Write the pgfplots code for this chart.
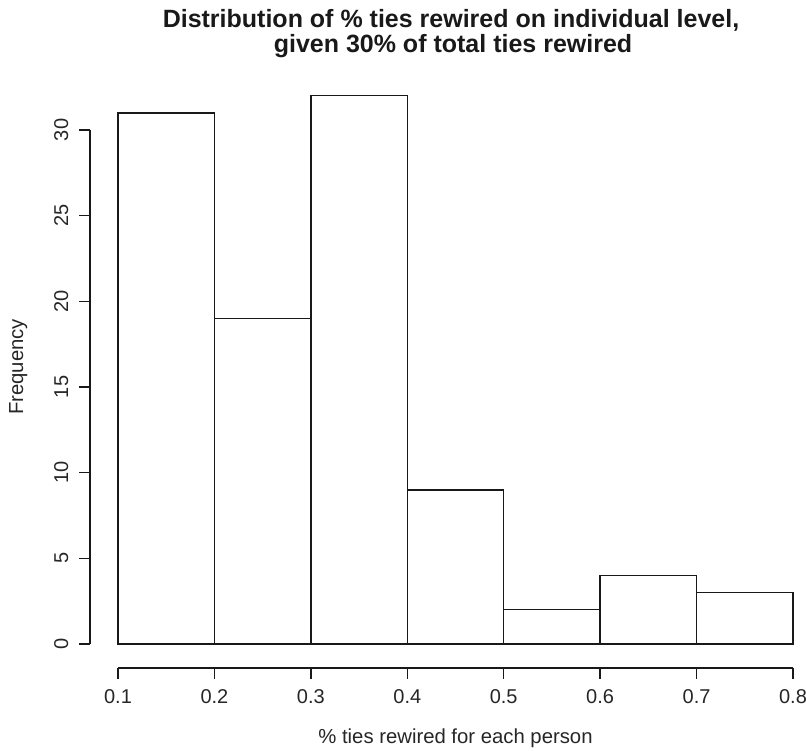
\documentclass[border=0pt]{standalone}
\usepackage{fontspec}
\setmainfont{Liberation Sans}
\usepackage{pgfplots}
\pgfplotsset{compat=1.18}

\tikzset{
  rline/.style={line width=1.5pt, black!90},
  rfont/.style={font=\fontsize{20}{24}\selectfont, text=black!85},
}

\begin{document}
\begin{tikzpicture}
\useasboundingbox (0,0) rectangle (806pt,750pt);

% plotting region with the bars
\begin{axis}[
  at={(118pt,106pt)}, anchor=south west,
  scale only axis,
  width=675pt, height=514pt,
  xmin=0.1, xmax=0.8,
  ymin=0, ymax=30,
  clip=false,
  axis lines=none,
]
  % histogram counts per bin of width 0.1 (last point closes the final bin)
  \addplot[ybar interval, fill=white, draw=black!90, line width=1.5pt]
    coordinates {(0.1,31) (0.2,19) (0.3,32) (0.4,9) (0.5,2) (0.6,4) (0.7,3) (0.8,3)};
\end{axis}

% detached x axis below the bars
\begin{axis}[
  at={(118pt,82pt)}, anchor=south west,
  scale only axis,
  width=675pt, height=1pt,
  xmin=0.1, xmax=0.8, ymin=0, ymax=1,
  axis x line=bottom, axis y line=none,
  axis line style={-, rline},
  xtick={0.1,0.2,0.3,0.4,0.5,0.6,0.7,0.8},
  xticklabels={0.1,0.2,0.3,0.4,0.5,0.6,0.7,0.8},
  tick align=outside,
  major tick length=11pt,
  tick style={rline},
  xticklabel style={rfont, anchor=base, inner sep=0pt, yshift=-25pt},
  xlabel={\% ties rewired for each person},
  xlabel style={font=\fontsize{20.3}{24}\selectfont, text=black!85,
    at={(axis description cs:0.5,0)}, anchor=base, inner sep=0pt, yshift=-75pt},
]
\end{axis}

% detached y axis left of the bars
\begin{axis}[
  at={(90pt,106pt)}, anchor=south west,
  scale only axis,
  width=1pt, height=514pt,
  xmin=0, xmax=1, ymin=0, ymax=30,
  axis y line=left, axis x line=none,
  axis line style={-, rline},
  ytick={0,5,10,15,20,25,30},
  yticklabels={0,5,10,15,20,25,30},
  tick align=outside,
  major tick length=11pt,
  tick style={rline},
  yticklabel style={rfont, xshift=-11pt, rotate=90, anchor=base, inner sep=0pt},
  ylabel={Frequency},
  ylabel style={font=\fontsize{20.3}{24}\selectfont, text=black!85,
    at={(axis description cs:-67,0.539)}, anchor=base, inner sep=0pt},
]
\end{axis}

\node[font=\bfseries\fontsize{25}{25}\selectfont, anchor=base, text=black!90] at (451pt,722pt)
  {Distribution of \% ties rewired on individual level,};
\node[font=\bfseries\fontsize{25}{25}\selectfont, anchor=base, text=black!90] at (453pt,697pt)
  {given 30\% of total ties rewired};
\end{tikzpicture}
\end{document}
